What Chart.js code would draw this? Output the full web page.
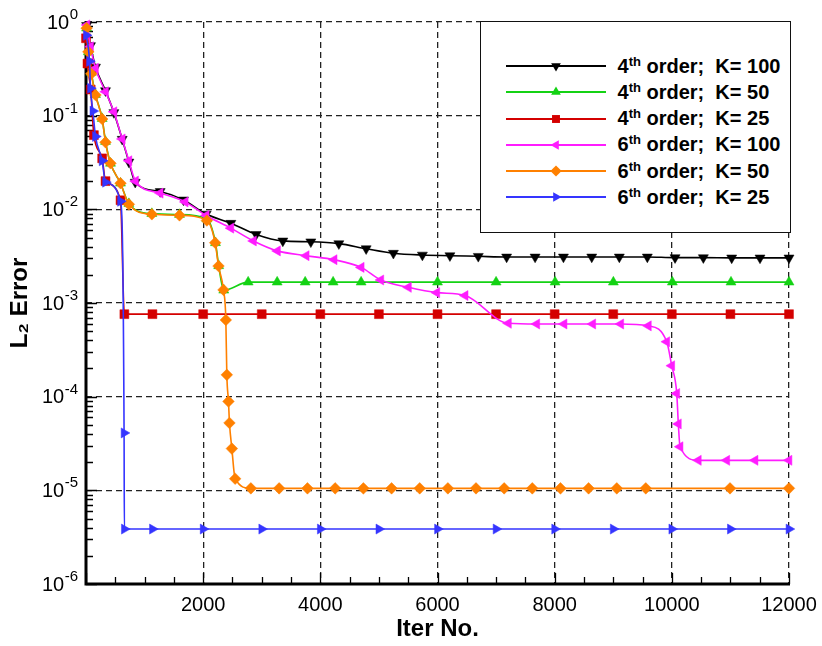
<!DOCTYPE html>
<html>
<head>
<meta charset="utf-8">
<script src="https://cdn.jsdelivr.net/npm/chart.js@4.4.0/dist/chart.umd.min.js"></script>
<style>
  body { margin: 0; background: #fff; }
  #wrap { position: relative; width: 822px; height: 646px; }
  #myChart { display: block; }
  #legend {
    position: absolute; left: 480px; top: 21px; width: 311px; height: 212px;
    box-sizing: border-box; border: 1.5px solid #111; background: #fff;
    font-family: 'Liberation Sans', Arial, sans-serif; font-weight: bold; font-size: 20px; color: #000;
  }
  .row { position: absolute; left: 0; height: 26px; display: flex; align-items: center; white-space: pre; }
  .row svg { margin-left: 24.5px; }
  .row span { margin-left: 12px; }
  .row sup { font-size: 13px; vertical-align: 7px; line-height: 0; }
</style>
</head>
<body>
<div id="wrap">
  <canvas id="myChart" width="822" height="646"></canvas>
  <div id="legend"></div>
</div>
<script>
// series: 4th / 6th order, K = 100, 50, 25
var orders = ['4', '4', '4', '6', '6', '6'];
var kValues = [100, 50, 25, 100, 50, 25];

var xTicks = [0, 2000, 4000, 6000, 8000, 10000, 12000];
var yTicks = [1e-6, 1e-5, 1e-4, 1e-3, 1e-2, 1e-1, 1];
var yTickExponents = ['-6', '-5', '-4', '-3', '-2', '-1', '0'];

var iter4_100 = [10, 77, 162, 333, 476, 618, 732, 840, 1266, 1664, 2051, 2473, 2904, 3360, 3838, 4316, 4782, 5247, 5742, 6212, 6696, 7180, 7666, 8150, 8633, 9104, 9582, 10055, 10538, 11022, 11505, 12000];
var err4_100 = [0.92, 0.56, 0.33, 0.185, 0.108, 0.056, 0.032, 0.0195, 0.0155, 0.0126, 0.0089, 0.0071, 0.0054, 0.0046, 0.0045, 0.0043, 0.0038, 0.0034, 0.00325, 0.0032, 0.00315, 0.0031, 0.0031, 0.0031, 0.0031, 0.0031, 0.0031, 0.00305, 0.00305, 0.00303, 0.00303, 0.00303];

var iter4_50 = [10, 40, 90, 162, 276, 333, 418, 589, 732, 1124, 1596, 2063, 2210, 2265, 2352, 2768, 3263, 3741, 4218, 4696, 6000, 7000, 8007, 9002, 10009, 11010, 12000];
var err4_50 = [0.86, 0.48, 0.29, 0.168, 0.093, 0.053, 0.031, 0.019, 0.0115, 0.009, 0.0088, 0.0079, 0.0044, 0.0025, 0.00137, 0.00167, 0.00167, 0.00167, 0.00167, 0.00167, 0.00167, 0.00167, 0.00167, 0.00167, 0.00167, 0.00167, 0.00167];

var iter4_25 = [0, 25, 80, 135, 276, 333, 589, 655, 1134, 2000, 3000, 4000, 5000, 6000, 7000, 8000, 9000, 10000, 11000, 12000];
var err4_25 = [0.67, 0.36, 0.19, 0.062, 0.035, 0.020, 0.0125, 0.00076, 0.00076, 0.00076, 0.00076, 0.00076, 0.00076, 0.00076, 0.00076, 0.00076, 0.00076, 0.00076, 0.00076, 0.00076];

var iter6_100 = [15, 77, 162, 333, 476, 618, 732, 845, 1266, 1693, 2051, 2473, 2858, 3268, 3758, 4235, 4697, 5032, 5503, 5988, 6471, 7210, 7694, 8160, 8650, 9128, 9599, 9913, 9998, 10084, 10111, 10140, 10452, 10937, 11420, 12000];
var err6_100 = [0.93, 0.545, 0.32, 0.18, 0.11, 0.0564, 0.033, 0.020, 0.0149, 0.012, 0.0086, 0.0063, 0.0046, 0.0036, 0.0032, 0.0029, 0.0024, 0.00176, 0.00147, 0.00129, 0.0012, 0.000607, 0.000597, 0.000597, 0.000597, 0.000597, 0.00057, 0.000386, 0.000214, 0.000108, 0.0000512, 0.0000292, 0.0000209, 0.0000209, 0.0000209, 0.0000209];

var iter6_50 = [10, 40, 90, 162, 276, 333, 418, 589, 732, 1124, 1596, 2063, 2205, 2262, 2347, 2387, 2404, 2432, 2449, 2490, 2546, 2814, 3297, 3780, 4253, 4735, 5216, 5696, 6177, 6657, 7138, 7618, 8099, 8579, 9060, 9555, 10993, 12000];
var err6_50 = [0.86, 0.48, 0.28, 0.166, 0.092, 0.052, 0.031, 0.019, 0.0113, 0.00885, 0.00863, 0.0076, 0.0044, 0.00248, 0.00138, 0.000659, 0.000171, 0.000089, 0.0000524, 0.0000279, 0.0000133, 0.0000105, 0.0000105, 0.0000105, 0.0000105, 0.0000105, 0.0000105, 0.0000105, 0.0000105, 0.0000105, 0.0000105, 0.0000105, 0.0000105, 0.0000105, 0.0000105, 0.0000105, 0.0000105, 0.0000105];

var iter6_25 = [5, 60, 77, 118, 162, 276, 333, 589, 650, 655, 1135, 2000, 3000, 4000, 5000, 6000, 7000, 8000, 9000, 10000, 11000, 12000];
var err6_25 = [0.72, 0.38, 0.196, 0.112, 0.06, 0.033, 0.0195, 0.0122, 0.000041, 0.00000386, 0.00000386, 0.00000386, 0.00000386, 0.00000386, 0.00000386, 0.00000386, 0.00000386, 0.00000386, 0.00000386, 0.00000386, 0.00000386, 0.00000386];

var iters = [iter4_100, iter4_50, iter4_25, iter6_100, iter6_50, iter6_25];
var errors = [err4_100, err4_50, err4_25, err6_100, err6_50, err6_25];

var colors = ['#000000', '#14d214', '#d40000', '#ff1cff', '#ff8000', '#3535ff'];
var markers = [['triangle', 180], ['triangle', 0], ['rect', 0], ['triangle', 270], ['rectRot', 0], ['triangle', 90]];
var xMinorStep = 500;

var axisFont = "'Liberation Sans Narrow', 'Liberation Sans', Arial, sans-serif";

// inward ticks, solid left/bottom axis and 10^n labels, like the original plot
var frameAxes = {
  id: 'frameAxes',
  beforeDatasetsDraw: function(chart) {
    var ctx = chart.ctx, a = chart.chartArea, x = chart.scales.x, y = chart.scales.y;
    ctx.save();
    ctx.strokeStyle = '#000';
    ctx.lineWidth = 1.3;
    ctx.beginPath();
    for (var v = 0; v <= 12000; v += xMinorStep) {
      var px = Math.round(x.getPixelForValue(v)) + 0.5;
      var len = v % 2000 === 0 ? 11 : 7;
      ctx.moveTo(px, a.bottom);
      ctx.lineTo(px, a.bottom - len);
    }
    for (var e = -6; e <= 0; e++) {
      var d = Math.pow(10, e);
      var py = Math.round(y.getPixelForValue(d)) + 0.5;
      ctx.moveTo(a.left, py);
      ctx.lineTo(a.left + 11, py);
      if (e < 0) {
        for (var m = 2; m <= 9; m++) {
          var my = Math.round(y.getPixelForValue(m * d)) + 0.5;
          ctx.moveTo(a.left, my);
          ctx.lineTo(a.left + 7, my);
        }
      }
    }
    ctx.stroke();
    ctx.lineWidth = 3;
    ctx.beginPath();
    ctx.moveTo(a.left, a.top - 1);
    ctx.lineTo(a.left, a.bottom);
    ctx.lineTo(a.right + 1, a.bottom);
    ctx.stroke();

    // y labels: "10" with a raised exponent
    ctx.fillStyle = '#000';
    ctx.textBaseline = 'middle';
    var rightEdge = a.left - 8;
    yTicks.forEach(function(t, i) {
      var ty = y.getPixelForValue(t);
      ctx.font = '15px ' + axisFont;
      var ew = ctx.measureText(yTickExponents[i]).width;
      ctx.textAlign = 'left';
      ctx.fillText(yTickExponents[i], rightEdge - ew, ty - 7);
      ctx.font = '20px ' + axisFont;
      ctx.textAlign = 'right';
      ctx.fillText('10', rightEdge - ew - 0.5, ty + 1);
    });
    ctx.restore();
  }
};

function seriesLabel(i) {
  return orders[i] + 'th order;  K= ' + kValues[i];
}

function markerSvg(i) {
  var style = markers[i][0], rot = markers[i][1], r = 5.6, cx = 50, cy = 7;
  var n = style === 'triangle' ? 3 : 4;
  var start = style === 'triangle' ? rot - 90 : (style === 'rect' ? 45 : 0);
  var pts = [];
  for (var k = 0; k < n; k++) {
    var ang = (start + k * 360 / n) * Math.PI / 180;
    pts.push((cx + r * Math.cos(ang)).toFixed(2) + ',' + (cy + r * Math.sin(ang)).toFixed(2));
  }
  return '<svg width="100" height="14" viewBox="0 0 100 14">' +
    '<line x1="0" y1="7" x2="100" y2="7" stroke="' + colors[i] + '" stroke-width="1.8"/>' +
    '<polygon points="' + pts.join(' ') + '" fill="' + colors[i] + '"/></svg>';
}

function buildLegend() {
  var html = '';
  for (var i = 0; i < orders.length; i++) {
    var top = 31.2 + i * 26.2;
    html += '<div class="row" style="top:' + top + 'px">' + markerSvg(i) +
      '<span>' + orders[i] + '<sup>th</sup> order;  K= ' + kValues[i] + '</span></div>';
  }
  document.getElementById('legend').innerHTML = html;
}

function setChart() {
  var datasets = iters.map(function(xs, i) {
    return {
      label: seriesLabel(i),
      data: xs.map(function(v, j) { return {x: v, y: errors[i][j]}; }),
      borderColor: colors[i],
      backgroundColor: colors[i],
      borderWidth: 1.6,
      pointStyle: markers[i][0],
      rotation: markers[i][1],
      pointRadius: markers[i][0] === 'rect' ? 6.3 : 5.8,
      pointBorderWidth: 0.5,
      pointBorderColor: colors[i],
      pointBackgroundColor: colors[i],
      cubicInterpolationMode: 'monotone',
      order: 6 - i,
      clip: 10
    };
  });

  var ctx = document.getElementById('myChart');
  new Chart(ctx, {
    type: 'line',
    data: { datasets: datasets },
    options: {
      responsive: false,
      animation: false,
      devicePixelRatio: 1,
      layout: { padding: { top: 22, right: 33, left: 0, bottom: 0 } },
      plugins: { legend: { display: false }, tooltip: { enabled: false } },
      scales: {
        x: {
          type: 'linear', min: 0, max: 12000,
          afterBuildTicks: function(s) { s.ticks = xTicks.map(function(v) { return {value: v}; }); },
          afterFit: function(s) { s.height = 62; s.paddingLeft = 0; s.paddingRight = 0; },
          ticks: {
            callback: function(v) { return v === 0 ? '' : String(v); },
            font: { family: axisFont, size: 20 }, color: '#000', padding: 9,
            maxRotation: 0, autoSkip: false
          },
          grid: { color: '#222', lineWidth: 1.3, drawTicks: false },
          border: { display: false, dash: [6, 4] },
          title: { display: true, text: 'Iter No.', color: '#000',
            font: { family: "'Liberation Sans', Arial, sans-serif", size: 24, weight: 'bold' },
            padding: { top: 0, bottom: 2 } }
        },
        y: {
          type: 'logarithmic', min: 1e-6, max: 1,
          afterBuildTicks: function(s) { s.ticks = yTicks.map(function(v) { return {value: v}; }); },
          afterFit: function(s) { s.width = 86; s.paddingTop = 0; s.paddingBottom = 0; },
          ticks: { display: false },
          grid: { color: '#222', lineWidth: 1.3, drawTicks: false },
          border: { display: false, dash: [6, 4] },
          title: { display: true, text: 'L₂ Error', color: '#000',
            font: { family: "'Liberation Sans', Arial, sans-serif", size: 24, weight: 'bold' },
            padding: { top: 6, bottom: 0 } }
        }
      }
    },
    plugins: [frameAxes]
  });
}

buildLegend();
setChart();
</script>
</body>
</html>
